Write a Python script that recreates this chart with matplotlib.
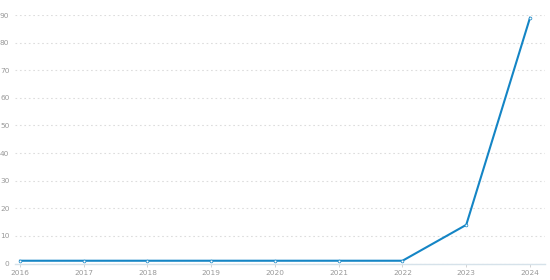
import matplotlib
matplotlib.use("Agg")
import matplotlib.pyplot as plt

years = [2016, 2017, 2018, 2019, 2020, 2021, 2022, 2023, 2024]
values = [1, 1, 1, 1, 1, 1, 1, 14, 89]
yticks = [0, 10, 20, 30, 40, 50, 60, 70, 80, 90]

fig = plt.figure(figsize=(5.5, 2.8), dpi=100)
ax = fig.add_axes([15/550, 1 - 263.5/280, 530/550, 248.5/280])

ax.plot(years, values, color="#1485c5", lw=1.5, marker="o", ms=2.0,
        mfc="white", mec="#1485c5", mew=0.5, zorder=3)

ax.set_xlim(2016 - 5/63.75, 2024 + 15/63.75)
ax.set_ylim(0, 90)
ax.set_yticks(yticks)
ax.set_xticks(years)
ax.set_xticklabels([str(y) for y in years])
ax.grid(axis="y", color="#dddddd", lw=0.8, ls=(0, (1.5, 2.5)))
ax.set_axisbelow(True)
for s in ["top", "right", "left"]:
    ax.spines[s].set_visible(False)
ax.spines["bottom"].set_color("#d6e2ea")
ax.spines["bottom"].set_linewidth(1.0)
ax.tick_params(axis="y", length=0, pad=4, labelsize=5.3, labelcolor="#999999")
ax.tick_params(axis="x", length=2, width=0.6, color="#cccccc", pad=2.5,
               labelsize=5.3, labelcolor="#999999")
for lbl in ax.get_yticklabels():
    lbl.set_ha("right")

fig.savefig("out.png", dpi=100)
